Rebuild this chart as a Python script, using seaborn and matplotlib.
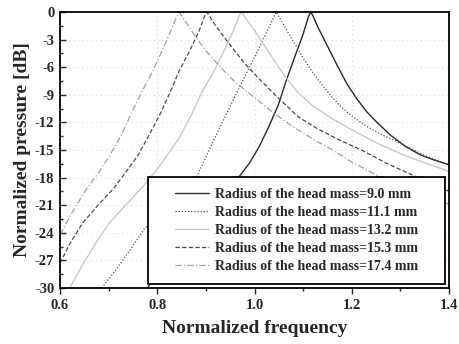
import matplotlib
matplotlib.use("Agg")
import matplotlib.pyplot as plt
from matplotlib.patches import Rectangle
import seaborn as sns

sns.set_theme(style="white")
plt.rcParams['font.family'] = ['Liberation Serif', 'DejaVu Serif']
plt.rcParams['axes.unicode_minus'] = False

# ---- data ----
freq_90 = [0.78, 0.81, 0.84, 0.87, 0.90, 0.94, 0.967, 0.99, 1.01, 1.03, 1.049, 1.065, 1.084, 1.10, 1.111, 1.116,
           1.121, 1.13, 1.15, 1.17, 1.19, 1.21, 1.23, 1.25, 1.28, 1.31, 1.34, 1.37, 1.40]
db_90 = [-30, -27.5, -25, -23, -21.5, -19.5, -18, -16.4, -14.6, -12.4, -10.1, -7.5, -4.7, -2.4, -0.5, 0,
         -0.5, -1.6, -3.7, -5.8, -7.8, -9.4, -10.8, -11.9, -13.4, -14.6, -15.5, -16.1, -16.6]

freq_111 = [0.686, 0.715, 0.745, 0.773, 0.80, 0.83, 0.86, 0.88, 0.90, 0.92, 0.945, 0.967, 0.985, 1.005, 1.025,
            1.040, 1.045, 1.050, 1.06, 1.08, 1.10, 1.12, 1.14, 1.16, 1.18, 1.20, 1.23, 1.26, 1.29, 1.32, 1.35, 1.40]
db_111 = [-30, -28, -25.8, -23.6, -22.2, -21, -19.5, -18, -15.8, -13.5, -10.8, -8.4, -6.5, -4.4, -2.2,
          -0.5, 0, -0.5, -1.4, -3.2, -5.0, -6.6, -8.0, -9.3, -10.4, -11.3, -12.4, -13.3, -14.0, -14.8, -15.6, -16.6]

freq_132 = [0.62, 0.645, 0.675, 0.702, 0.735, 0.77, 0.798, 0.82, 0.845, 0.87, 0.892, 0.915, 0.935, 0.955,
            0.968, 0.973, 0.978, 1.00, 1.03, 1.06, 1.09, 1.12, 1.16, 1.20, 1.25, 1.30, 1.35, 1.40]
db_132 = [-30, -27.6, -25.0, -22.9, -21.0, -19.0, -17.2, -15.6, -13.7, -11.2, -8.7, -6.6, -4.5, -2.2,
          -0.5, 0, -0.4, -2.0, -4.4, -6.8, -8.8, -10.2, -11.6, -12.8, -14.2, -15.4, -16.4, -17.3]

freq_153 = [0.60, 0.62, 0.647, 0.68, 0.71, 0.737, 0.76, 0.78, 0.805, 0.83, 0.845, 0.865, 0.885, 0.897, 0.902,
            0.907, 0.92, 0.95, 0.98, 1.01, 1.05, 1.09, 1.13, 1.17, 1.22, 1.27, 1.32, 1.36, 1.40]
db_153 = [-27.3, -25.2, -22.9, -20.9, -19.2, -17.3, -15.6, -13.7, -11.2, -8.3, -6.4, -4.4, -2.2, -0.5, 0,
          -0.4, -1.5, -3.6, -5.6, -7.3, -9.4, -11.4, -12.7, -13.8, -15.0, -16.4, -17.6, -18.6, -19.5]

freq_174 = [0.60, 0.625, 0.65, 0.68, 0.70, 0.725, 0.745, 0.767, 0.79, 0.81, 0.83, 0.840, 0.845,
            0.850, 0.86, 0.88, 0.90, 0.93, 0.96, 1.00, 1.04, 1.08, 1.12, 1.16, 1.20, 1.25, 1.30, 1.35, 1.40]
db_174 = [-24.2, -21.8, -19.6, -17.4, -15.8, -13.5, -11.2, -8.8, -6.5, -4.2, -1.8, -0.5, 0,
          -0.4, -1.2, -2.8, -4.2, -6.0, -7.6, -9.3, -11.0, -12.5, -13.8, -15.0, -16.3, -17.7, -18.9, -19.9, -20.9]

labels = ["Radius of the head mass=9.0 mm", "Radius of the head mass=11.1 mm",
          "Radius of the head mass=13.2 mm", "Radius of the head mass=15.3 mm",
          "Radius of the head mass=17.4 mm"]
x_ticks = [0.6, 0.8, 1.0, 1.2, 1.4]
y_ticks = [0, -3, -6, -9, -12, -15, -18, -21, -24, -27, -30]

series = [(freq_90, db_90), (freq_111, db_111), (freq_132, db_132), (freq_153, db_153), (freq_174, db_174)]
styles = [dict(color="#2a2a2a", lw=1.0, dashes=None),
          dict(color="#555555", lw=0.9, dashes=(1, 1.5)),
          dict(color="#c4c4c4", lw=0.9, dashes=None),
          dict(color="#4a4a4a", lw=0.9, dashes=(3.5, 1.8)),
          dict(color="#a0a0a0", lw=0.9, dashes=(5, 1.8, 1, 1.8))]

fig = plt.figure(figsize=(4.59, 3.44), dpi=100)
ax = fig.add_axes([60/459, 1-288/344, (449-60)/459, (288-12)/344])

for (fx, fy), st, lab in zip(series, styles, labels):
    sns.lineplot(x=fx, y=fy, ax=ax, color=st["color"], linewidth=st["lw"], label=lab,
                 sort=False, estimator=None)
    line = ax.lines[-1]
    if st["dashes"] is not None:
        line.set_dashes(st["dashes"])

ax.set_xlim(0.6, 1.4)
ax.set_ylim(-30, 0)
ax.set_xticks(x_ticks)
ax.set_xticklabels([f"{v:.1f}" for v in x_ticks])
ax.set_yticks(y_ticks)
ax.set_yticklabels([str(v) for v in y_ticks])
ax.set_xticks([0.7, 0.9, 1.1, 1.3], minor=True)
ax.set_yticks([v - 1.5 for v in y_ticks[:-1]], minor=True)

ax.grid(True, which="major", color="#dddddd", linestyle=(0, (1, 3)), linewidth=0.8)
for s in ax.spines.values():
    s.set_color("black")
    s.set_linewidth(1.3)
    s.set_zorder(6)

ax.tick_params(axis="x", which="major", direction="out", length=4, width=1, labelsize=10.5, pad=4)
ax.tick_params(axis="x", which="minor", direction="out", length=2.5, width=1)
ax.tick_params(axis="y", which="major", direction="in", length=4, width=1, labelsize=10.5, pad=4)
ax.tick_params(axis="y", which="minor", direction="in", length=2.5, width=1)
ax.tick_params(bottom=True, left=True, which="both")
for t in ax.get_xticklabels() + ax.get_yticklabels():
    t.set_fontweight("bold")

ax.set_xlabel("Normalized frequency", fontsize=14, fontweight="bold", labelpad=6)
ax.set_ylabel("Normalized pressure [dB]", fontsize=14, fontweight="bold", labelpad=3)

leg = ax.legend(loc="lower right", fontsize=10, frameon=False,
                bbox_to_anchor=(1 - 31/389, 15/276), borderaxespad=0, borderpad=0,
                handlelength=2.4, labelspacing=0.36, handletextpad=0.45)
leg.set_zorder(7)
for t in leg.get_texts():
    t.set_fontweight("bold")

# frame around the legend content, wider horizontally than vertically (like the original)
fig.canvas.draw()
ext = leg.get_window_extent(fig.canvas.get_renderer())
padx, pady = 27, 11
frame = Rectangle((ext.x0 - padx, ext.y0 - pady), ext.width + 2 * padx, ext.height + 2 * pady,
                  transform=None, facecolor="white", edgecolor="black", linewidth=1.3,
                  zorder=5, clip_on=False)
ax.add_artist(frame)

fig.savefig("out.png", dpi=100)
